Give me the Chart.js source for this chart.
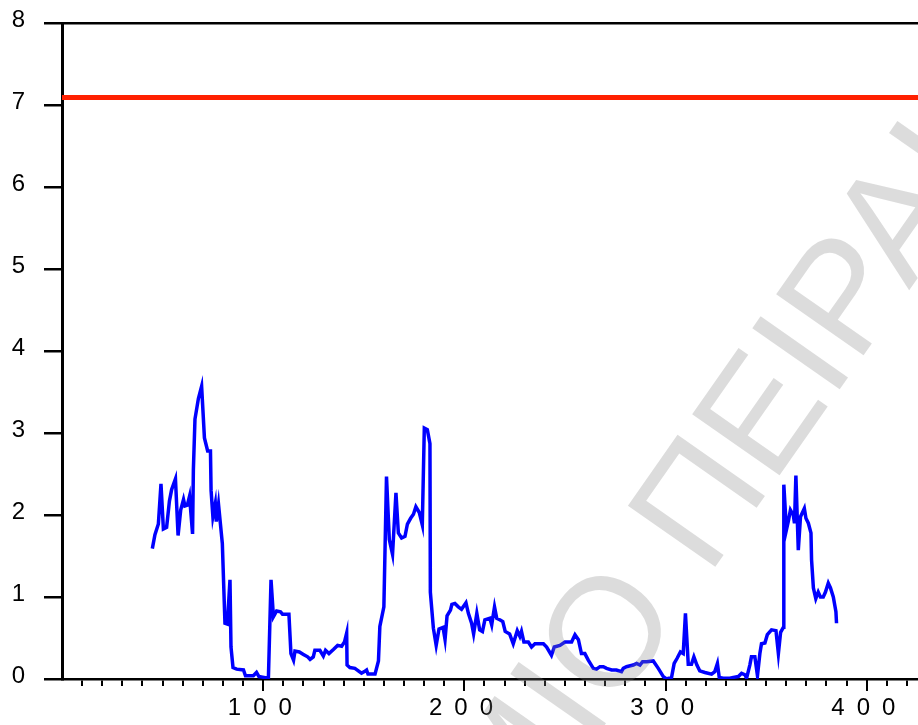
<!DOCTYPE html>
<html>
<head>
<meta charset="utf-8">
<script src="https://cdn.jsdelivr.net/npm/chart.js@4.4.1/dist/chart.umd.min.js"></script>
<style>
  html, body { margin: 0; padding: 0; background: #fff; }
  #wrap { width: 918px; height: 725px; }
</style>
</head>
<body>
<div id="wrap"><canvas id="chart" width="918" height="725"></canvas></div>
<script>
// values
const seriesX = [
  44.9, 46.2, 47.9, 49.2, 50.4, 52.0, 53.4, 54.5, 56.4, 57.7, 59.0, 60.4, 61.1, 62.3, 63.4, 64.9, 65.3, 66.1, 67.8, 69.4,
  70.8, 72.4, 73.8, 74.1, 75.0, 76.2, 76.7, 77.8, 79.7, 81.0, 82.2, 83.5, 84.0, 85.0, 86.8, 90.2, 91.2, 95.1, 96.7, 97.9,
  100.4, 102.6, 103.9, 105.1, 106.7, 108.6, 109.6, 112.8, 113.8, 115.1, 115.8, 118.0, 120.0, 122.1, 123.3, 124.9, 125.7, 128.2, 129.9, 131.0,
  132.7, 134.9, 137.0, 139.0, 140.4, 141.5, 141.7, 143.1, 145.6, 147.3, 148.9, 150.3, 151.4, 152.1, 155.6, 157.3, 158.0, 160.0, 161.3, 162.7,
  164.3, 166.0, 167.2, 168.8, 170.5, 171.7, 173.3, 174.7, 175.9, 177.6, 179.1, 180.1, 181.6, 182.9, 183.1, 184.6, 186.0, 187.4, 189.4, 190.4,
  191.4, 193.1, 193.8, 195.3, 197.0, 198.6, 200.8, 202.0, 203.6, 204.6, 206.2, 207.6, 209.0, 210.2, 212.7, 213.6, 215.0, 216.1, 217.8, 219.1,
  220.3, 222.5, 224.3, 226.3, 227.6, 228.4, 229.6, 231.8, 233.4, 235.1, 239.3, 240.9, 243.3, 244.7, 247.5, 250.0, 253.3, 255.0, 256.7, 258.2,
  259.9, 261.6, 264.1, 265.7, 267.4, 269.1, 270.7, 273.2, 275.6, 278.1, 279.0, 280.6, 284.0, 285.6, 287.3, 288.6, 290.6, 293.9, 296.4, 298.9,
  300.5, 303.0, 304.3, 305.7, 307.4, 308.8, 309.9, 311.3, 312.9, 314.1, 315.6, 317.0, 319.6, 322.9, 324.5, 325.8, 326.7, 328.7, 332.0, 333.7,
  336.2, 337.8, 339.5, 340.3, 341.9, 342.7, 344.4, 345.7, 346.9, 347.7, 349.4, 350.6, 352.7, 354.9, 356.1, 357.2, 358.6, 358.8, 360.1, 361.0,
  362.1, 363.5, 364.1, 364.8, 366.0, 367.1, 369.0, 369.8, 371.0, 372.3, 372.6, 373.5, 374.7, 375.9, 377.0, 378.4, 379.5, 380.9, 382.0, 383.4,
  384.7, 385.0
];
const seriesY = [
  1.59, 1.76, 1.89, 2.38, 1.83, 1.85, 2.17, 2.31, 2.44, 1.75, 2.06, 2.19, 2.11, 2.12, 2.23, 1.77, 2.55, 3.17, 3.42, 3.57,
  2.94, 2.78, 2.78, 2.30, 1.98, 2.14, 1.92, 2.13, 1.65, 0.68, 0.67, 1.21, 0.39, 0.14, 0.12, 0.11, 0.04, 0.04, 0.08, 0.03,
  0.02, 0.01, 1.21, 0.76, 0.83, 0.82, 0.79, 0.79, 0.31, 0.23, 0.34, 0.33, 0.30, 0.27, 0.24, 0.27, 0.35, 0.35, 0.28, 0.35,
  0.31, 0.36, 0.41, 0.40, 0.45, 0.56, 0.17, 0.14, 0.13, 0.10, 0.07, 0.09, 0.11, 0.06, 0.06, 0.22, 0.64, 0.88, 2.47, 1.70,
  1.52, 2.27, 1.78, 1.72, 1.74, 1.89, 1.96, 2.01, 2.10, 2.03, 1.88, 3.06, 3.04, 2.87, 1.06, 0.62, 0.41, 0.61, 0.63, 0.48,
  0.77, 0.84, 0.91, 0.92, 0.88, 0.85, 0.93, 0.80, 0.68, 0.55, 0.80, 0.60, 0.58, 0.72, 0.74, 0.66, 0.88, 0.74, 0.72, 0.70,
  0.58, 0.55, 0.43, 0.59, 0.52, 0.58, 0.45, 0.45, 0.39, 0.43, 0.43, 0.39, 0.29, 0.39, 0.41, 0.45, 0.45, 0.54, 0.48, 0.31,
  0.31, 0.23, 0.13, 0.12, 0.15, 0.15, 0.13, 0.11, 0.11, 0.09, 0.13, 0.15, 0.17, 0.19, 0.17, 0.21, 0.21, 0.22, 0.13, 0.03,
  0.00, 0.02, 0.19, 0.25, 0.33, 0.31, 0.80, 0.18, 0.18, 0.27, 0.17, 0.10, 0.08, 0.06, 0.09, 0.19, 0.02, 0.01, 0.01, 0.02,
  0.03, 0.07, 0.05, 0.01, 0.17, 0.27, 0.27, 0.04, 0.31, 0.43, 0.44, 0.54, 0.60, 0.59, 0.31, 0.57, 0.63, 2.37, 1.82, 1.92,
  2.06, 2.00, 1.90, 2.48, 1.57, 1.98, 2.08, 1.96, 1.90, 1.78, 1.45, 1.11, 0.98, 1.06, 1.00, 1.00, 1.06, 1.17, 1.11, 1.00,
  0.82, 0.68
];
const thresholdValue = 7.09;
const xMajorTicks = [100, 200, 300, 400];
const xTickLabels = ['1\u20020\u20020 ', '2\u20020\u20020 ', '3\u20020\u20020 ', '4\u20020\u20020 '];
const xMax = 425.5;
const watermarkText = 'ΠΑΝΕΠΙΣΤΗΜΙΟ ΠΕΙΡΑΙΩΣ';

const FONT = "'Liberation Sans', Arial, sans-serif";
Chart.defaults.font.family = FONT;
Chart.defaults.color = '#000';

// longer marks under the labelled x ticks
const majorTickMarks = {
  id: 'majorTickMarks',
  afterDraw(chart) {
    const s = chart.scales.x, c = chart.ctx;
    c.save();
    c.strokeStyle = '#000';
    c.lineWidth = 2;
    xMajorTicks.forEach(v => {
      const p = Math.round(s.getPixelForValue(v));
      c.beginPath(); c.moveTo(p, s.top); c.lineTo(p, s.top + 12); c.stroke();
    });
    c.restore();
  }
};

// faint diagonal text over the picture
const watermark = {
  id: 'watermark',
  afterDraw(chart) {
    const c = chart.ctx, size = 155;
    c.save();
    c.font = size + 'px ' + FONT;
    c.fillStyle = 'rgba(128,128,128,0.28)';
    c.textBaseline = 'alphabetic';
    const w1 = c.measureText('ΠΑΝΕΠΙΣΤΗΜΙ').width, wO = c.measureText('Ο').width;
    c.translate(603, 630);
    c.rotate(-55 * Math.PI / 180);
    c.fillText(watermarkText, -(w1 + wO / 2), size * 0.36);
    c.restore();
  }
};

new Chart(document.getElementById('chart'), {
  type: 'line',
  data: {
    datasets: [
      { data: seriesX.map((x, i) => ({ x, y: seriesY[i] })), borderColor: '#0000ff', borderWidth: 3.5,
        pointRadius: 0, tension: 0, fill: false },
      { data: [{ x: 0, y: thresholdValue }, { x: xMax, y: thresholdValue }], borderColor: '#ff2000',
        borderWidth: 5, pointRadius: 0, fill: false }
    ]
  },
  options: {
    responsive: false, animation: false, devicePixelRatio: 1,
    layout: { padding: 0 },
    plugins: { legend: { display: false }, tooltip: { enabled: false } },
    scales: {
      x: {
        type: 'linear', position: 'bottom', min: 0, max: xMax,
        afterBuildTicks: s => { const t = []; for (let v = 10; v <= 420; v += 10) t.push({ value: v }); s.ticks = t; },
        afterFit: s => { s.height = 46; s.paddingLeft = 0; s.paddingRight = 0; },
        grid: { drawOnChartArea: false, tickLength: 7, lineWidth: 2, color: '#000' },
        border: { color: '#000', width: 2.5 },
        ticks: {
          autoSkip: false, maxRotation: 0, padding: 8, font: { size: 24 }, color: '#000',
          callback: v => { const i = xMajorTicks.indexOf(v); return i >= 0 ? xTickLabels[i] : ''; }
        }
      },
      xTop: {
        type: 'linear', position: 'top', min: 0, max: xMax,
        afterFit: s => { s.height = 23; s.paddingLeft = 0; s.paddingRight = 0; },
        grid: { drawOnChartArea: false, drawTicks: false },
        border: { color: '#000', width: 2.5 },
        ticks: { display: false }
      },
      y: {
        min: 0, max: 8,
        afterFit: s => { s.width = 62; s.paddingTop = 0; s.paddingBottom = 0; },
        grid: { drawOnChartArea: false, tickLength: 18, lineWidth: 2.5, color: '#000' },
        border: { color: '#000', width: 3 },
        ticks: { stepSize: 1, padding: 19, labelOffset: -3, font: { size: 24 }, color: '#000' }
      }
    }
  },
  plugins: [majorTickMarks, watermark]
});
</script>
</body>
</html>
